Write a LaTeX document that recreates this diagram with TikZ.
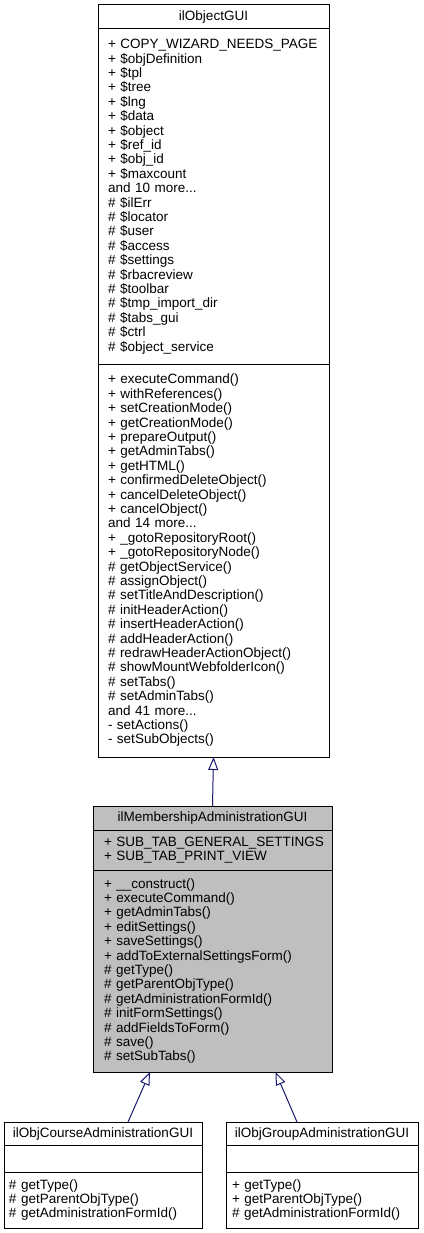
\documentclass[tikz,border=0pt]{standalone}
\usepackage{fontspec}
\setmainfont{Liberation Sans}
\usetikzlibrary{positioning,calc,arrows.meta}
\definecolor{edgeblue}{HTML}{191970}
\definecolor{boxgray}{HTML}{BFBFBF}
\tikzset{field/.style={draw,line width=1pt,align=left,inner ysep=0pt,outer sep=0pt,font=\fontsize{13.5}{14.4}\selectfont} }
\tikzset{title/.style={field,align=center} }
\tikzset{obj box/.style={text width=211pt,inner xsep=10pt},
         mem box/.style={fill=boxgray,text width=217pt,inner xsep=11pt},
         crs box/.style={text width=188pt,inner xsep=5pt},
         grp box/.style={text width=180pt,inner xsep=6pt} }
\tikzset{inherit/.style={draw=edgeblue,line width=1pt,-{Triangle[open,length=13pt,width=10pt]}} }

\begin{document}
\begin{tikzpicture}[x=1pt,y=-1pt]
  \useasboundingbox (0,0) rectangle (423,1233);

  % base class
  \node[title,obj box,minimum height=24pt,anchor=north west] (objT) at (98,5) {ilObjectGUI};
  \node[field,obj box,minimum height=335pt,below=0pt of objT] (objA) {+~COPY\_WIZARD\_NEEDS\_PAGE\\+ \$objDefinition\\+ \$tpl\\+ \$tree\\+ \$lng\\+ \$data\\+ \$object\\+ \$ref\_id\\+ \$obj\_id\\+ \$maxcount\\and 10 more...\\\# \$ilErr\\\# \$locator\\\# \$user\\\# \$access\\\# \$settings\\\# \$rbacreview\\\# \$toolbar\\\# \$tmp\_import\_dir\\\# \$tabs\_gui\\\# \$ctrl\\\# \$object\_service};
  \node[field,obj box,minimum height=393pt,below=0pt of objA] (objM) {+ executeCommand()\\+ withReferences()\\+ setCreationMode()\\+ getCreationMode()\\+ prepareOutput()\\+ getAdminTabs()\\+ getHTML()\\+ confirmedDeleteObject()\\+ cancelDeleteObject()\\+ cancelObject()\\and 14 more...\\+ \_gotoRepositoryRoot()\\+ \_gotoRepositoryNode()\\\# getObjectService()\\\# assignObject()\\\# setTitleAndDescription()\\\# initHeaderAction()\\\# insertHeaderAction()\\\# addHeaderAction()\\\# redrawHeaderActionObject()\\\# showMountWebfolderIcon()\\\# setTabs()\\\# setAdminTabs()\\and 41 more...\\- setActions()\\- setSubObjects()};

  % membership administration
  \node[title,mem box,minimum height=24pt,anchor=north west] (memT) at (93,806) {ilMembershipAdministrationGUI};
  \node[field,mem box,minimum height=40pt,below=0pt of memT] (memA) {+~SUB\_TAB\_GENERAL\_SETTINGS\\+ SUB\_TAB\_PRINT\_VIEW};
  \node[field,mem box,minimum height=202pt,below=0pt of memA] (memM) {+ \_\_construct()\\+ executeCommand()\\+ getAdminTabs()\\+ editSettings()\\+ saveSettings()\\+ addToExternalSettingsForm()\\\# getType()\\\# getParentObjType()\\\# getAdministrationFormId()\\\# initFormSettings()\\\# addFieldsToForm()\\\# save()\\\# setSubTabs()};

  % derived classes
  \node[title,crs box,minimum height=23pt,anchor=north west] (crsT) at (4,1122) {ilObjCourseAdministrationGUI};
  \node[field,crs box,minimum height=27pt,below=0pt of crsT] (crsA) {};
  \node[field,crs box,minimum height=56pt,below=0pt of crsA] (crsM) {\# getType()\\\# getParentObjType()\\\# getAdministrationFormId()};

  \node[title,grp box,minimum height=23pt,anchor=north west] (grpT) at (226,1122) {ilObjGroupAdministrationGUI};
  \node[field,grp box,minimum height=27pt,below=0pt of grpT] (grpA) {};
  \node[field,grp box,minimum height=56pt,below=0pt of grpA] (grpM) {+ getType()\\+ getParentObjType()\\\# getAdministrationFormId()};

  \coordinate (crsTip) at ($(memM.south)+(-62.5,0)$);
  \coordinate (grpTip) at ($(memM.south)+(63,0)$);
  \coordinate (crsFoot) at ($(crsT.north)+(25,0)$);
  \coordinate (grpFoot) at ($(grpT.north)+(-25,0)$);

  \draw[inherit] (memT.north) -- (objM.south);
  \draw[inherit] (crsFoot) -- (crsTip);
  \draw[inherit] (grpFoot) -- (grpTip);
\end{tikzpicture}
\end{document}
